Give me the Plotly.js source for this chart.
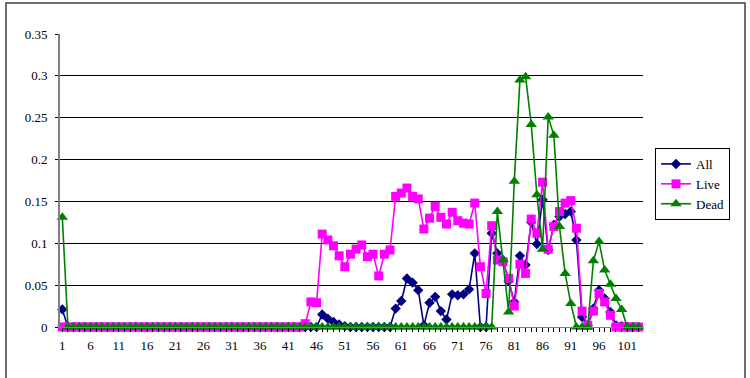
<!DOCTYPE html>
<html>
<head>
<meta charset="utf-8">
<script src="https://cdn.plot.ly/plotly-3.0.1.min.js"></script>
<style>html,body{margin:0;padding:0;background:#fff;}#chart{width:750px;height:378px;}</style>
</head>
<body>
<div id="chart"></div>
<script>
var categories = [1,2,3,4,5,6,7,8,9,10,11,12,13,14,15,16,17,18,19,20,21,22,23,24,25,26,27,28,29,30,31,32,33,34,35,36,37,38,39,40,41,42,43,44,45,46,47,48,49,50,51,52,53,54,55,56,57,58,59,60,61,62,63,64,65,66,67,68,69,70,71,72,73,74,75,76,77,78,79,80,81,82,83,84,85,86,87,88,89,90,91,92,93,94,95,96,97,98,99,100,101,102,103];

var allVals = [
0.021,0,0,0,0,0,0,0,0,0,
0,0,0,0,0,0,0,0,0,0,
0,0,0,0,0,0,0,0,0,0,
0,0,0,0,0,0,0,0,0,0,
0,0,0,0,0,0,0.015,0.010,0.006,0.003,
0.001,0,0,0,0,0,0,0,0,0.022,
0.031,0.058,0.053,0.044,0.002,0.029,0.036,0.019,0.009,0.039,
0.038,0.039,0.045,0.088,0,0,0.112,0.088,0.080,0.055,
0.030,0.085,0.074,0.125,0.099,0.152,0.092,0.122,0.132,0.135,
0.138,0.104,0.012,0.002,0.022,0.044,0.034,0.018,0.002,0.001,
0,0,0];

var liveVals = [
0,0,0,0,0,0,0,0,0,0,
0,0,0,0,0,0,0,0,0,0,
0,0,0,0,0,0,0,0,0,0,
0,0,0,0,0,0,0,0,0,0,
0,0,0,0.004,0.030,0.029,0.111,0.104,0.097,0.085,
0.072,0.087,0.093,0.098,0.084,0.087,0.061,0.087,0.092,0.156,
0.160,0.166,0.156,0.153,0.117,0.130,0.144,0.131,0.123,0.137,
0.127,0.124,0.123,0.148,0.072,0.040,0.121,0.080,0.078,0.058,
0.025,0.075,0.064,0.129,0.112,0.173,0.093,0.120,0.138,0.148,
0.151,0.118,0.019,0.002,0.019,0.040,0.030,0.014,0,0,
0,0,0];

var deadVals = [
0.131,0,0,0,0,0,0,0,0,0,
0,0,0,0,0,0,0,0,0,0,
0,0,0,0,0,0,0,0,0,0,
0,0,0,0,0,0,0,0,0,0,
0,0,0,0,0,0,0,0,0,0,
0,0,0,0,0,0,0,0,0,0,
0,0,0,0,0,0,0,0,0,0,
0,0,0,0,0,0,0,0.138,0.080,0.018,
0.174,0.295,0.299,0.242,0.158,0.093,0.251,0.229,0.120,0.064,
0.028,0,0,0,0.079,0.102,0.068,0.051,0.034,0.021,
0,0,0];

var xTickVals = [1,6,11,16,21,26,31,36,41,46,51,56,61,66,71,76,81,86,91,96,101];
var xTickLabels = ["1","6","11","16","21","26","31","36","41","46","51","56","61","66","71","76","81","86","91","96","101"];
var yTickVals = [0,0.05,0.1,0.15,0.2,0.25,0.3,0.35];
var yTickLabels = ["0","0.05","0.1","0.15","0.2","0.25","0.3","0.35"];

var serif = "'Liberation Serif', 'Times New Roman', serif";

var traces = [
  {x: categories, y: allVals, name: "All", type: "scatter", mode: "lines+markers", cliponaxis: false,
   line: {color: "#000080", width: 1.6}, marker: {symbol: "diamond", size: 8, color: "#000080"}},
  {x: categories, y: liveVals, name: "Live", type: "scatter", mode: "lines+markers", cliponaxis: false,
   line: {color: "#FF00FF", width: 1.6}, marker: {symbol: "square", size: 9, color: "#FF00FF"}},
  {x: categories, y: deadVals, name: "Dead", type: "scatter", mode: "lines+markers", cliponaxis: false,
   line: {color: "#008000", width: 1.6}, marker: {symbol: "triangle-up", size: 10, color: "#008000"}}
];

var layout = {
  width: 750, height: 378,
  margin: {l: 60, r: 107, t: 34, b: 51, pad: 0},
  paper_bgcolor: "#fff", plot_bgcolor: "#fff",
  font: {family: serif, size: 13, color: "#000"},
  showlegend: true,
  legend: {x: 1.0206, xanchor: "left", y: 0.611, yanchor: "top",
           bordercolor: "#000", borderwidth: 1, bgcolor: "#fff",
           font: {family: serif, size: 13, color: "#000"}, tracegroupgap: 0},
  xaxis: {range: [0.593, 103.78], tickmode: "array", tickvals: xTickVals, ticktext: xTickLabels,
          showgrid: false, zeroline: false, showline: true, linecolor: "#808080", linewidth: 1,
          ticks: "outside", ticklen: 4, tickcolor: "#000", tickwidth: 1, ticklabelstandoff: 2,
          minor: {dtick: 1, tick0: 1, ticks: "outside", ticklen: 4, tickcolor: "#000", tickwidth: 1, showgrid: false},
          tickfont: {family: serif, size: 13, color: "#000"}, fixedrange: true},
  yaxis: {range: [0, 0.35], tickmode: "array", tickvals: yTickVals, ticktext: yTickLabels,
          showgrid: true, gridcolor: "#000", gridwidth: 1, zeroline: false,
          showline: true, linecolor: "#808080", linewidth: 2,
          ticks: "outside", ticklen: 3, tickcolor: "#000", ticklabelstandoff: 5,
          tickfont: {family: serif, size: 13, color: "#000"}, fixedrange: true},
  shapes: [
    {type: "rect", xref: "paper", yref: "paper", x0: -0.0926, x1: 1.175, y0: -0.2, y1: 1.106,
     line: {color: "#404040", width: 1.5}, fillcolor: "rgba(0,0,0,0)", layer: "below"}
  ]
};

Plotly.newPlot("chart", traces, layout, {displayModeBar: false, staticPlot: true});
</script>
</body>
</html>
